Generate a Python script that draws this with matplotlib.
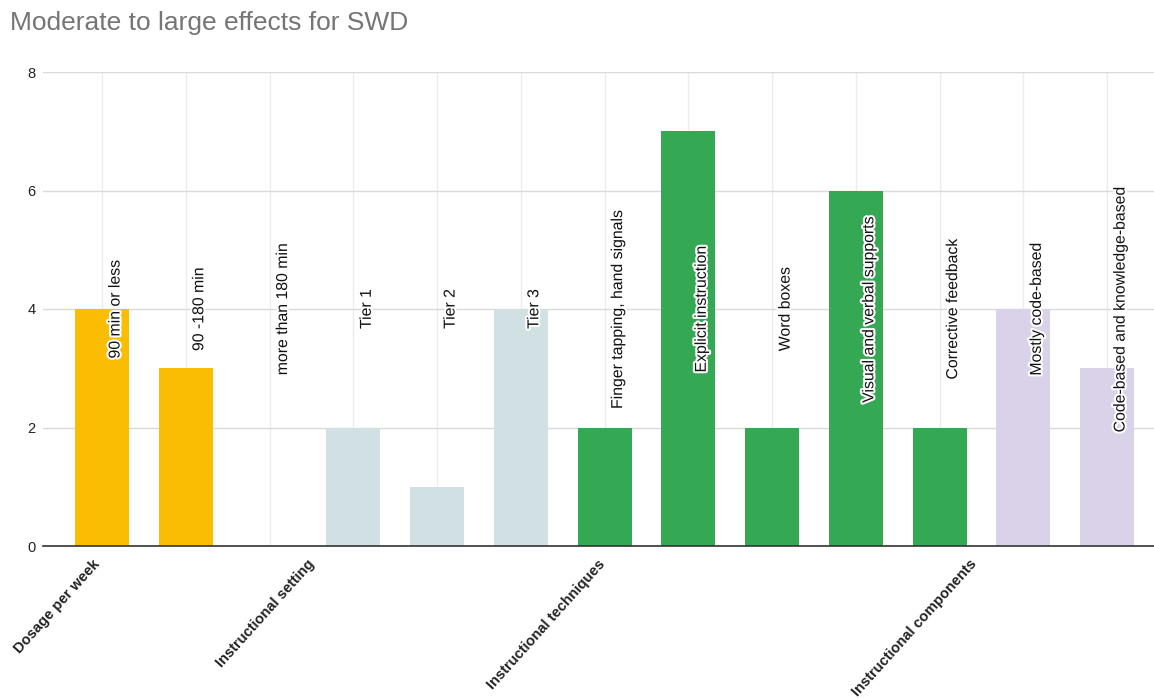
import matplotlib
matplotlib.use("Agg")
import matplotlib.pyplot as plt
import matplotlib.transforms as mtransforms
import matplotlib.patheffects as pe

plt.rcParams['font.family'] = ['Liberation Sans', 'DejaVu Sans']

categories = ["90 min or less", "90 -180 min", "more than 180 min",
              "Tier 1", "Tier 2", "Tier 3",
              "Finger tapping, hand signals", "Explicit instruction", "Word boxes",
              "Visual and verbal supports", "Corrective feedback",
              "Mostly code-based", "Code-based and knowledge-based"]
values = [4, 3, 0, 2, 1, 4, 2, 7, 2, 6, 2, 4, 3]
groups = ["Dosage per week", "Instructional setting",
          "Instructional techniques", "Instructional components"]
group_sizes = [3, 3, 5, 2]
group_colors = ["#FBBC04", "#D0E0E3", "#34A853", "#D9D2E9"]
group_label_pos = [-0.12, 2.45, 5.92, 10.35]
y_ticks = [0, 2, 4, 6, 8]

bar_colors = []
for c, n in zip(group_colors, group_sizes):
    bar_colors += [c] * n

fig = plt.figure(figsize=(11.54, 6.98), dpi=100)
ax = fig.add_axes([43/1154, 1-546/698, 1-43/1154, (546-72)/698])

x = list(range(len(categories)))
ax.bar(x, values, width=0.645, color=bar_colors, zorder=2)

ax.set_ylim(0, 8)
ax.set_xlim(-0.705, 12.56)
ax.set_yticks(y_ticks)
ax.set_yticklabels([str(t) for t in y_ticks], fontsize=10.5, color="#222222")
ax.tick_params(axis='y', length=0, pad=5.5)

# horizontal gridlines
ax.grid(axis='y', color="#d9d9d9", linewidth=1.0, zorder=0)
# vertical gridlines at each category
ax.set_xticks(x, minor=True)
ax.grid(axis='x', which='minor', color="#ececec", linewidth=1.0, zorder=0)
ax.tick_params(axis='x', which='minor', length=0)

ax.set_xticks(group_label_pos)
ax.set_xticklabels(groups, rotation=48, ha='right', rotation_mode='anchor',
                   fontsize=10.5, fontweight='bold', color="#222222")
ax.tick_params(axis='x', which='major', length=0, pad=8)

for s in ['top', 'right', 'left']:
    ax.spines[s].set_visible(False)
ax.spines['bottom'].set_color("#333333")
ax.spines['bottom'].set_linewidth(1.2)
ax.spines['bottom'].set_zorder(3)

trans = mtransforms.blended_transform_factory(ax.transData, ax.transAxes)
offset = mtransforms.ScaledTranslation(13/100, 0, fig.dpi_scale_trans)
for xi, lab in zip(x, categories):
    ax.text(xi, 0.5, lab, transform=trans + offset, rotation=90,
            ha='center', va='center', fontsize=11.4, color="#111111", zorder=4,
            path_effects=[pe.withStroke(linewidth=3, foreground='white')])

fig.text(10/1154, 1-23/698, "Moderate to large effects for SWD",
         fontsize=19, color="#757575", ha='left', va='center')

fig.savefig("out.png", dpi=100)
